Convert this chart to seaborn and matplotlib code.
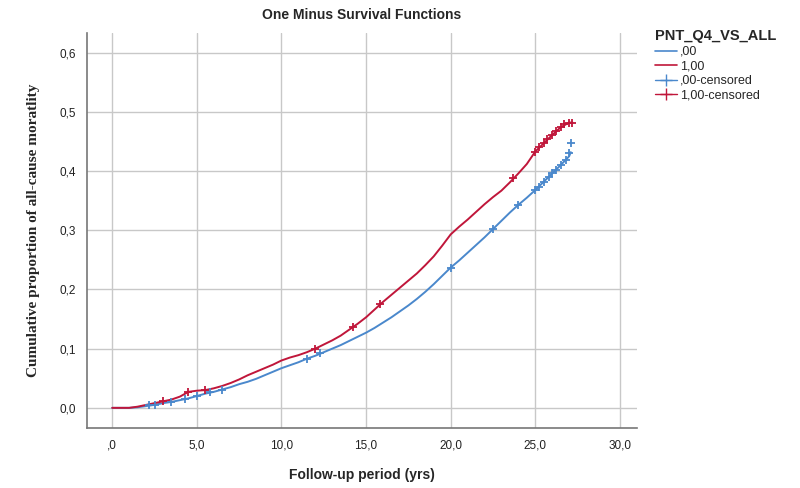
import matplotlib
matplotlib.use("Agg")
import matplotlib.pyplot as plt
import seaborn as sns
import pandas as pd
from matplotlib.lines import Line2D
from matplotlib.font_manager import FontProperties

# Data (approximate)
t_00 = [0, 1, 1.5, 2, 2.5, 3, 3.5, 4, 4.5, 5, 5.5, 6, 6.5, 7, 7.5, 8, 8.5, 9, 9.5, 10, 10.5, 11, 11.5, 12, 12.5, 13, 13.5, 14,
        14.5, 15, 15.5, 16, 16.5, 17, 17.5, 18, 18.5, 19, 19.5, 20, 20.5, 21, 21.5, 22, 22.5, 23, 23.5, 24, 24.5, 25,
        25.5, 26, 26.5, 27, 27.1]
p_00 = [0, 0, 0.001, 0.003, 0.005, 0.008, 0.010, 0.013, 0.016, 0.020, 0.024, 0.027, 0.031, 0.035, 0.040, 0.044, 0.049,
        0.055, 0.061, 0.067, 0.072, 0.077, 0.083, 0.088, 0.094, 0.100, 0.106, 0.113, 0.120, 0.127, 0.135, 0.144, 0.153,
        0.163, 0.173, 0.184, 0.196, 0.209, 0.223, 0.237, 0.249, 0.262, 0.275, 0.288, 0.302, 0.316, 0.330, 0.343, 0.355,
        0.368, 0.382, 0.396, 0.410, 0.425, 0.432]
t_q4 = [0, 1, 1.5, 2, 2.5, 3, 3.5, 4, 4.5, 5, 5.5, 6, 6.5, 7, 7.5, 8, 8.5, 9, 9.5, 10, 10.5, 11, 11.5, 12, 12.5, 13, 13.5,
        14, 14.5, 15, 15.5, 16, 16.5, 17, 17.5, 18, 18.5, 19, 19.5, 20, 20.5, 21, 21.5, 22, 22.5, 23, 23.5, 24, 24.5,
        25, 25.5, 26, 26.5, 27.0, 27.2]
p_q4 = [0, 0, 0.002, 0.005, 0.008, 0.011, 0.014, 0.019, 0.027, 0.029, 0.030, 0.033, 0.037, 0.042, 0.048, 0.055, 0.061,
        0.067, 0.073, 0.080, 0.085, 0.089, 0.094, 0.100, 0.107, 0.114, 0.122, 0.132, 0.142, 0.153, 0.166, 0.179, 0.191,
        0.203, 0.215, 0.227, 0.241, 0.256, 0.274, 0.293, 0.306, 0.318, 0.331, 0.344, 0.356, 0.367, 0.381, 0.396, 0.412,
        0.433, 0.447, 0.461, 0.474, 0.482, 0.482]
cens_t_00 = [2.2, 2.5, 3.5, 4.3, 5.0, 5.8, 6.5, 11.5, 12.3, 20.0, 22.5, 24.0, 25.0, 25.2, 25.5, 25.8, 26.0, 26.2, 26.5,
             26.8, 27.0, 27.1]
cens_p_00 = [0.004, 0.005, 0.010, 0.015, 0.020, 0.026, 0.031, 0.083, 0.093, 0.237, 0.302, 0.343, 0.368, 0.373, 0.382,
             0.390, 0.396, 0.402, 0.410, 0.418, 0.430, 0.448]
cens_t_q4 = [3.0, 4.5, 5.5, 12.0, 14.2, 15.8, 23.7, 25.0, 25.2, 25.5, 25.7, 26.0, 26.2, 26.5, 26.7, 27.0, 27.2]
cens_p_q4 = [0.011, 0.027, 0.030, 0.100, 0.137, 0.175, 0.389, 0.433, 0.440, 0.447, 0.454, 0.461, 0.467, 0.474, 0.479,
             0.482, 0.482]

x_ticks = [0, 5, 10, 15, 20, 25, 30]
x_labels = [",0", "5,0", "10,0", "15,0", "20,0", "25,0", "30,0"]
y_ticks = [0, 0.1, 0.2, 0.3, 0.4, 0.5, 0.6]
y_labels = ["0,0", "0,1", "0,2", "0,3", "0,4", "0,5", "0,6"]

blue = "#4a88cc"
red = "#c0163a"

sns.set_theme(style="white")
plt.rcParams["font.family"] = ["Liberation Sans", "DejaVu Sans"]

fig = plt.figure(figsize=(8, 4.88), dpi=100)
ax = fig.add_axes([0.109, 0.123, 0.687, 0.809])

df0 = pd.DataFrame({"t": t_00, "p": p_00})
df1 = pd.DataFrame({"t": t_q4, "p": p_q4})
sns.lineplot(data=df0, x="t", y="p", ax=ax, color=blue, lw=1.4, zorder=3)
sns.lineplot(data=df1, x="t", y="p", ax=ax, color=red, lw=1.4, zorder=3)
c0 = pd.DataFrame({"t": cens_t_00, "p": cens_p_00})
c1 = pd.DataFrame({"t": cens_t_q4, "p": cens_p_q4})
sns.scatterplot(data=c0, x="t", y="p", ax=ax, marker="+", color=blue, s=30, linewidth=1.3, zorder=4)
sns.scatterplot(data=c1, x="t", y="p", ax=ax, marker="+", color=red, s=30, linewidth=1.3, zorder=4)

ax.set_xlim(-1.48, 31.0)
ax.set_ylim(-0.034, 0.633)
ax.set_xticks(x_ticks)
ax.set_xticklabels(x_labels, fontsize=8.5)
ax.set_yticks(y_ticks)
ax.set_yticklabels(y_labels, fontsize=8.5)
ax.grid(True, color="#c8c8c8", lw=1.0)
ax.set_axisbelow(True)
for s in ["top", "right"]:
    ax.spines[s].set_visible(False)
for s in ["left", "bottom"]:
    ax.spines[s].set_color("#777777")
    ax.spines[s].set_linewidth(1.2)
ax.tick_params(axis="both", length=0, pad=8, colors="#222222")

fp_x = FontProperties(family="Liberation Sans", weight="bold", size=10)
fp_y = FontProperties(family="Liberation Serif", weight="bold", size=11)
fp_t = FontProperties(family="Liberation Sans", weight="bold", size=10)
ax.set_xlabel("Follow-up period (yrs)", fontproperties=fp_x, labelpad=12)
ax.set_ylabel("Cumulative proportion of all-cause moratlity", fontproperties=fp_y, labelpad=14)
ax.set_title("One Minus Survival Functions", fontproperties=fp_t, pad=10)

handles = [
    Line2D([], [], color=blue, lw=1.2),
    Line2D([], [], color=red, lw=1.2),
    Line2D([], [], color=blue, lw=1.0, marker="+", markersize=8),
    Line2D([], [], color=red, lw=1.0, marker="+", markersize=8),
]
labels = [",00", "1,00", ",00-censored", "1,00-censored"]
leg = fig.legend(handles, labels, loc="upper left", bbox_to_anchor=(0.812, 0.95), frameon=False,
                 title="PNT_Q4_VS_ALL", fontsize=9, handlelength=1.8, handletextpad=0.2,
                 labelspacing=0.2, borderaxespad=0)
leg.get_title().set_fontweight("bold")
leg.get_title().set_fontsize(10.5)
leg._legend_box.align = "left"

fig.savefig("out.png", dpi=100)
